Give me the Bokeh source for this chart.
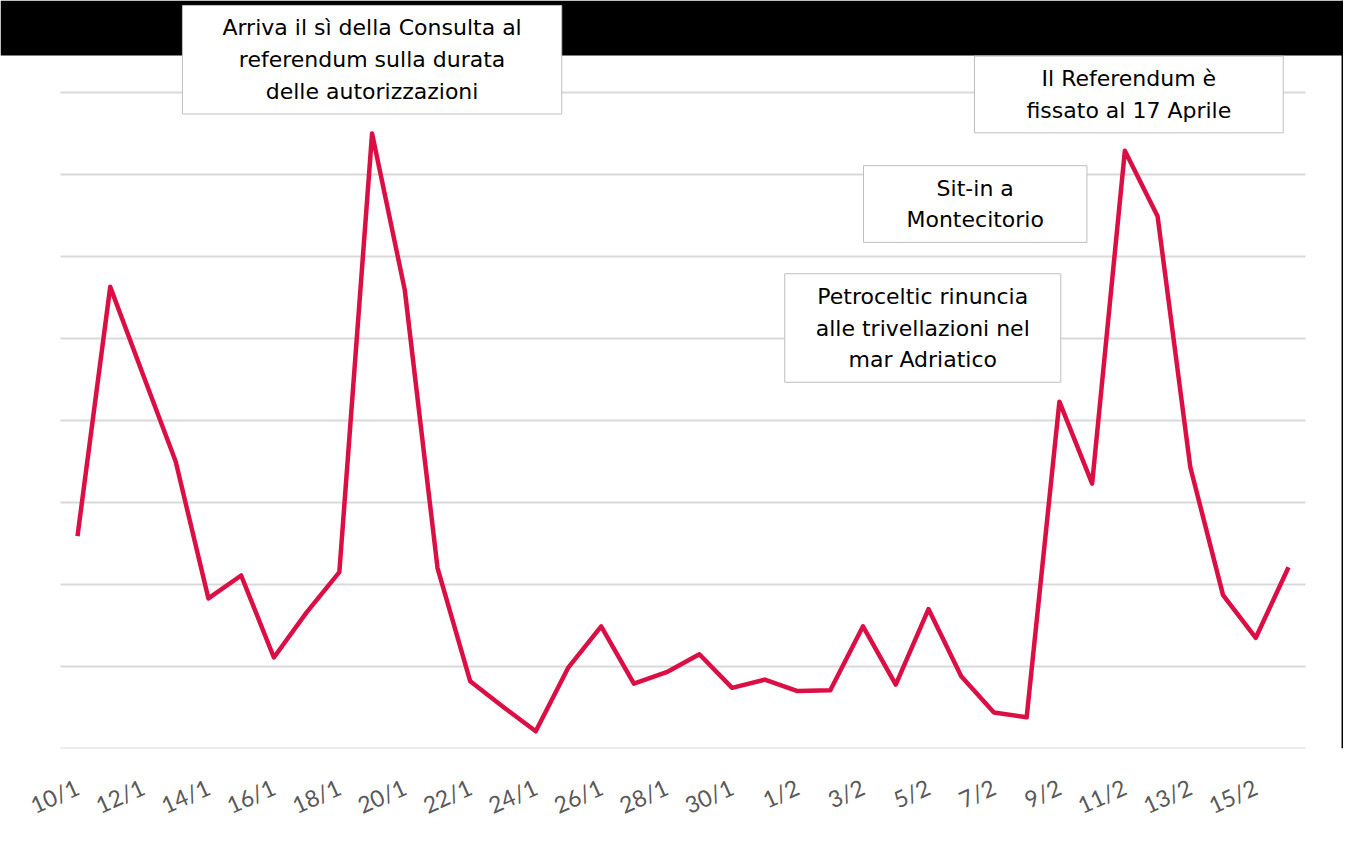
from bokeh.plotting import figure
from bokeh.models import FixedTicker, BoxAnnotation, Label
from bokeh.embed import file_html
from bokeh.resources import INLINE

# daily values, 10 Jan - 16 Feb
dates = ["10/1", "11/1", "12/1", "13/1", "14/1", "15/1", "16/1", "17/1", "18/1", "19/1",
         "20/1", "21/1", "22/1", "23/1", "24/1", "25/1", "26/1", "27/1", "28/1", "29/1",
         "30/1", "31/1", "1/2", "2/2", "3/2", "4/2", "5/2", "6/2", "7/2", "8/2",
         "9/2", "10/2", "11/2", "12/2", "13/2", "14/2", "15/2", "16/2"]
values = [2.59, 5.63, 4.56, 3.50, 1.83, 2.11, 1.11, 1.66, 2.15, 7.50,
          5.59, 2.20, 0.82, 0.51, 0.21, 0.99, 1.49, 0.79, 0.93, 1.15,
          0.74, 0.84, 0.70, 0.71, 1.49, 0.78, 1.70, 0.88, 0.44, 0.38,
          4.23, 3.23, 7.29, 6.49, 3.43, 1.87, 1.35, 2.21]
grid_levels = [0, 1, 2, 3, 4, 5, 6, 7, 8]

# annotated events: date and text
event_dates = ["19/1", "11/2", "6/2", "4/2"]
event_texts = [
    "Arriva il sì della Consulta al\nreferendum sulla durata\ndelle autorizzazioni",
    "Il Referendum è\nfissato al 17 Aprile",
    "Sit-in a\nMontecitorio",
    "Petroceltic rinuncia\nalle trivellazioni nel\nmar Adriatico",
]
# box placement: level of the box centre, x shift (px), side padding (px)
box_levels = [8.40, 7.976, 6.64, 5.128]
box_shift = [0, 4, 14, 27]
box_pad = [40, 52, 43, 31]

W, H = 1343, 843
x = list(range(len(dates)))

p = figure(width=W, height=H, output_backend="svg", toolbar_location=None, tools="",
           x_range=(-2.3526, 38.68), y_range=(0, 9.122),
           min_border_left=0, min_border_right=0, min_border_top=0, min_border_bottom=95)
p.outline_line_color = None
p.background_fill_color = "white"
p.border_fill_color = "white"
p.yaxis.visible = False
p.xgrid.grid_line_color = None
p.ygrid.grid_line_color = None

# horizontal gridlines limited to the category span
p.segment(x0=-0.52, x1=len(dates) - 0.48, y0=grid_levels, y1=grid_levels,
          line_color="#d9d9d9", line_width=2)

# black band on top and thin border on the right
p.add_layout(BoxAnnotation(bottom=8.451, fill_color="black", fill_alpha=1, line_color=None))
p.add_layout(BoxAnnotation(left=38.62, fill_color="black", fill_alpha=1, line_color=None))

p.line(x, values, line_color="#dc0f45", line_width=4.5, line_join="round")

p.xaxis.ticker = FixedTicker(ticks=x[::2])
p.xaxis.major_label_overrides = {i: dates[i] for i in x[::2]}
p.xaxis.major_label_orientation = 0.42
p.xaxis.major_label_text_font = "Lato"
p.xaxis.major_label_text_font_size = "23px"
p.xaxis.major_label_text_color = "#595959"
p.xaxis.major_label_standoff = 31
p.xaxis.axis_line_color = None
p.xaxis.major_tick_line_color = None
p.xaxis.minor_tick_line_color = None

for d, txt, lvl, dx, pad in zip(event_dates, event_texts, box_levels, box_shift, box_pad):
    common = dict(x=dates.index(d), y=lvl, text=txt, text_align="center", text_baseline="middle",
                  text_font="DejaVu Sans", text_font_size="22px", text_line_height=1.27,
                  padding=(pad, 10))
    shadow = Label(**common, x_offset=dx + 3, y_offset=-3, text_alpha=0,
                   background_fill_color="#8c8c8c", background_fill_alpha=0.55)
    box = Label(**common, x_offset=dx, text_color="black", background_fill_color="white",
                border_line_color="#bfbfbf", border_line_width=1)
    p.add_layout(shadow)
    p.add_layout(box)

open("out.html", "w").write(file_html(p, INLINE))
